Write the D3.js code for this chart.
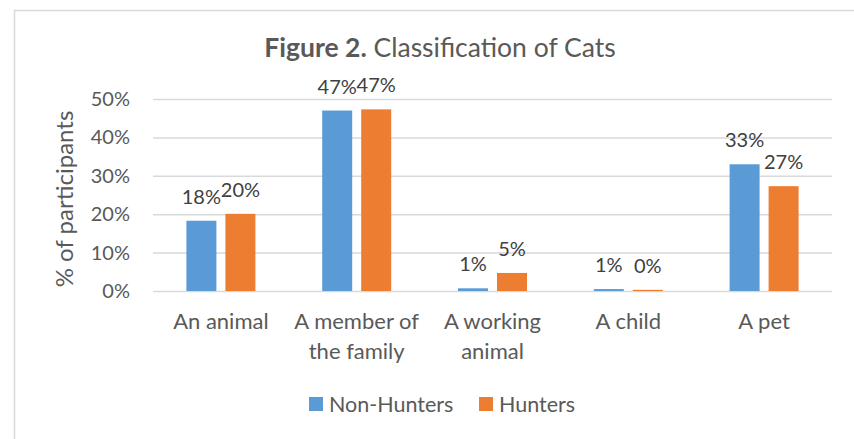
<!DOCTYPE html>
<html lang="en">
	<head>
		<meta charset="utf-8">
		<title>Figure 2. Classification of Cats</title>
		<script src="https://d3js.org/d3.v7.min.js" charset="utf-8"></script>
		<style type="text/css">
			body { margin: 0; background: #fff; }
			svg { display: block; font-family: Lato, "Open Sans", sans-serif; }
		</style>
	</head>
	<body>
		<script type="text/javascript">

		// categories (line breaks as they wrap under the axis)
		var categories = ["An animal", "A member of the family", "A working animal", "A child", "A pet"];
		var categoryLines = [["An animal"], ["A member of", "the family"], ["A working", "animal"], ["A child"], ["A pet"]];
		var seriesNames = ["Non-Hunters", "Hunters"];
		var seriesColors = ["#5b9bd5", "#ed7d31"];

		// % of participants
		var nonHunters = [18.3, 47.0, 0.7, 0.5, 33.0];
		var hunters = [20.1, 47.3, 4.7, 0.3, 27.3];

		var yTicks = [0, 10, 20, 30, 40, 50];

		var w = 854;
		var h = 439;

		var svg = d3.select("body")
					.append("svg")
					.attr("width", w)
					.attr("height", h);

		svg.append("rect").attr("width", w).attr("height", h).attr("fill", "#fff");

		// chart area border (only top + left are inside the picture)
		svg.append("path")
		   .attr("d", "M14.5," + h + "V10.5H" + w)
		   .attr("fill", "none")
		   .attr("stroke", "#d9d9d9")
		   .attr("stroke-width", 1.5);

		var x0 = d3.scaleBand()
				   .domain(categories)
				   .range([153, 832]);

		var groupW = 69;
		var x1 = d3.scaleBand()
				   .domain(seriesNames)
				   .range([(x0.bandwidth() - groupW) / 2, (x0.bandwidth() + groupW) / 2])
				   .paddingInner(0.231);

		var y = d3.scaleLinear()
				  .domain([0, 50])
				  .range([291, 99]);

		// gridlines + y labels
		var yAxis = d3.axisLeft(y)
					  .tickValues(yTicks)
					  .tickSize(-(832 - 153))
					  .tickPadding(23)
					  .tickFormat(function(d) { return d + "%"; });

		var gy = svg.append("g")
					.attr("transform", "translate(153,0)")
					.call(yAxis);
		gy.select(".domain").remove();
		gy.selectAll(".tick line")
		  .attr("stroke", "#d9d9d9")
		  .attr("stroke-width", 1.5);
		gy.selectAll(".tick text")
		  .attr("fill", "#595959")
		  .attr("font-size", 20)
		  .attr("font-family", "Lato, sans-serif");

		svg.append("text")
		   .attr("transform", "translate(73,199) rotate(-90)")
		   .attr("text-anchor", "middle")
		   .attr("fill", "#595959")
		   .attr("font-size", 24)
		   .text("% of participants");

		// bars
		var rows = categories.map(function(c, i) {
			return { cat: c, values: [nonHunters[i], hunters[i]] };
		});

		var groups = svg.selectAll("g.cat")
						.data(rows)
						.enter()
						.append("g")
						.attr("class", "cat")
						.attr("transform", function(d) { return "translate(" + x0(d.cat) + ",0)"; });

		var cells = groups.selectAll("g.bar")
						  .data(function(d) {
							  return d.values.map(function(v, j) { return { s: seriesNames[j], v: v, j: j }; });
						  })
						  .enter()
						  .append("g")
						  .attr("class", "bar");

		cells.append("rect")
			 .attr("x", function(d) { return x1(d.s); })
			 .attr("y", function(d) { return y(d.v); })
			 .attr("width", x1.bandwidth())
			 .attr("height", function(d) { return y(0) - y(d.v); })
			 .attr("fill", function(d) { return seriesColors[d.j]; });

		cells.append("text")
			 .attr("x", function(d) { return x1(d.s) + x1.bandwidth() / 2; })
			 .attr("y", function(d) { return y(d.v) - 17; })
			 .attr("text-anchor", "middle")
			 .attr("fill", "#404040")
			 .attr("font-size", 20)
			 .text(function(d) { return Math.round(d.v) + "%"; });

		// category labels
		var catText = svg.selectAll("text.cat")
						 .data(rows)
						 .enter()
						 .append("text")
						 .attr("class", "cat")
						 .attr("text-anchor", "middle")
						 .attr("fill", "#595959")
						 .attr("font-size", 22);

		catText.selectAll("tspan")
			   .data(function(d, i) { return categoryLines[i].map(function(t) { return { t: t, c: d.cat }; }); })
			   .enter()
			   .append("tspan")
			   .attr("x", function(d) { return x0(d.c) + x0.bandwidth() / 2; })
			   .attr("y", function(d, k) { return 329 + k * 30; })
			   .text(function(d) { return d.t; });

		// title
		var title = svg.append("text")
					   .attr("x", 440)
					   .attr("y", 57)
					   .attr("text-anchor", "middle")
					   .attr("fill", "#595959")
					   .attr("font-size", 26.5);
		title.append("tspan").attr("font-weight", "bold").text("Figure 2.");
		title.append("tspan").text(" Classification of Cats");

		// legend
		var legendX = [309, 479];
		var legend = svg.selectAll("g.legend")
						.data(seriesNames)
						.enter()
						.append("g")
						.attr("class", "legend")
						.attr("transform", function(d, i) { return "translate(" + legendX[i] + ",397)"; });
		legend.append("rect")
			  .attr("width", 14)
			  .attr("height", 14)
			  .attr("fill", function(d, i) { return seriesColors[i]; });
		legend.append("text")
			  .attr("x", 20)
			  .attr("y", 14.5)
			  .attr("fill", "#595959")
			  .attr("font-size", 21.5)
			  .text(function(d) { return d; });

		</script>
	</body>
</html>
